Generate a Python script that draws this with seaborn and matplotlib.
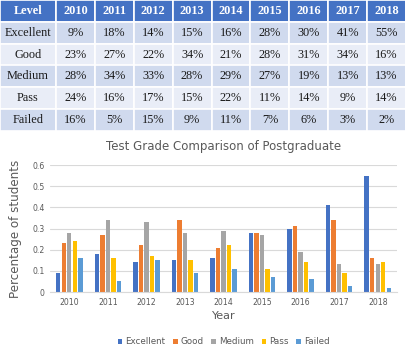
import matplotlib
matplotlib.use("Agg")
import matplotlib.pyplot as plt
import seaborn as sns
import pandas as pd

years = ["2010", "2011", "2012", "2013", "2014", "2015", "2016", "2017", "2018"]
levels = ["Excellent", "Good", "Medium", "Pass", "Failed"]
excellent = [0.09, 0.18, 0.14, 0.15, 0.16, 0.28, 0.30, 0.41, 0.55]
good = [0.23, 0.27, 0.22, 0.34, 0.21, 0.28, 0.31, 0.34, 0.16]
medium = [0.28, 0.34, 0.33, 0.28, 0.29, 0.27, 0.19, 0.13, 0.13]
passed = [0.24, 0.16, 0.17, 0.15, 0.22, 0.11, 0.14, 0.09, 0.14]
failed = [0.16, 0.05, 0.15, 0.09, 0.11, 0.07, 0.06, 0.03, 0.02]
series = [excellent, good, medium, passed, failed]
yticks = [0, 0.1, 0.2, 0.3, 0.4, 0.5, 0.6]
ytick_labels = ["0", "0.1", "0.2", "0.3", "0.4", "0.5", "0.6"]

colors = ["#4472C4", "#ED7D31", "#A5A5A5", "#FFC000", "#5B9BD5"]

sns.set_theme(style="white")
plt.rcParams['font.family'] = ['DejaVu Sans']

W, H = 406, 356
fig = plt.figure(figsize=(W / 100, H / 100), dpi=100)

# ---- table ----
tab_h = 131
axt = fig.add_axes([0, 1 - tab_h / H, 1, tab_h / H])
axt.axis("off")
cell_text = [[lv] + [f"{round(v * 100)}%" for v in s] for lv, s in zip(levels, series)]
col_labels = ["Level"] + years
tbl = axt.table(cellText=cell_text, colLabels=col_labels, loc="center",
                cellLoc="center", bbox=[0, 0, 1, 1])
tbl.auto_set_font_size(False)
first_w = 56 / W
other_w = (1 - first_w) / len(years)
band = ["#D0DAEE", "#E9EDF7"]
for (r, c), cell in tbl.get_celld().items():
    cell.set_width(first_w if c == 0 else other_w)
    cell.set_edgecolor("white")
    cell.set_linewidth(1.2)
    txt = cell.get_text()
    if r == 0:
        cell.set_facecolor("#4472C4")
        txt.set_color("white")
        txt.set_fontweight("bold")
    else:
        cell.set_facecolor(band[(r - 1) % 2])
        txt.set_color("#1a1a1a")
    txt.set_fontfamily("Liberation Serif")
    txt.set_fontsize(8.8)

# ---- chart ----
left, right = 50, 397
top, bottom = 165, 292
ax = fig.add_axes([left / W, 1 - bottom / H, (right - left) / W, (bottom - top) / H])

df = pd.DataFrame({
    "Year": [y for s in series for y in years],
    "Level": [lv for lv, s in zip(levels, series) for _ in years],
    "Value": [v for s in series for v in s],
})
sns.barplot(data=df, x="Year", y="Value", hue="Level", hue_order=levels,
            palette=colors, width=0.72, gap=0.2, ax=ax, legend=True,
            saturation=1, linewidth=0, edgecolor="none")

ax.set_ylim(0, 0.6)
ax.set_xlim(-0.5, len(years) - 0.5)
ax.set_yticks(yticks)
ax.set_yticklabels(ytick_labels)
ax.yaxis.grid(True, color="#D9D9D9", linewidth=0.8)
ax.set_axisbelow(True)
for sp in ["top", "right", "left"]:
    ax.spines[sp].set_visible(False)
ax.spines["bottom"].set_color("#D9D9D9")
ax.spines["bottom"].set_linewidth(0.8)
ax.tick_params(axis="both", length=0, labelsize=5.6, colors="#595959", pad=4)
ax.set_xlabel("Year", fontsize=8, color="#595959", labelpad=3)
ax.set_ylabel("Percentage of students", fontsize=8.6, color="#595959", labelpad=7)
ax.set_title("Test Grade Comparison of Postgraduate", fontsize=8.5,
             color="#595959", pad=11)

leg = ax.legend(loc="upper center", bbox_to_anchor=(0.5, -0.33), ncol=5,
                frameon=False, fontsize=6.3, handlelength=0.55, handleheight=0.55,
                handletextpad=0.3, columnspacing=0.9, borderaxespad=0)
for t in leg.get_texts():
    t.set_color("#595959")

fig.savefig("out.png", dpi=100)
